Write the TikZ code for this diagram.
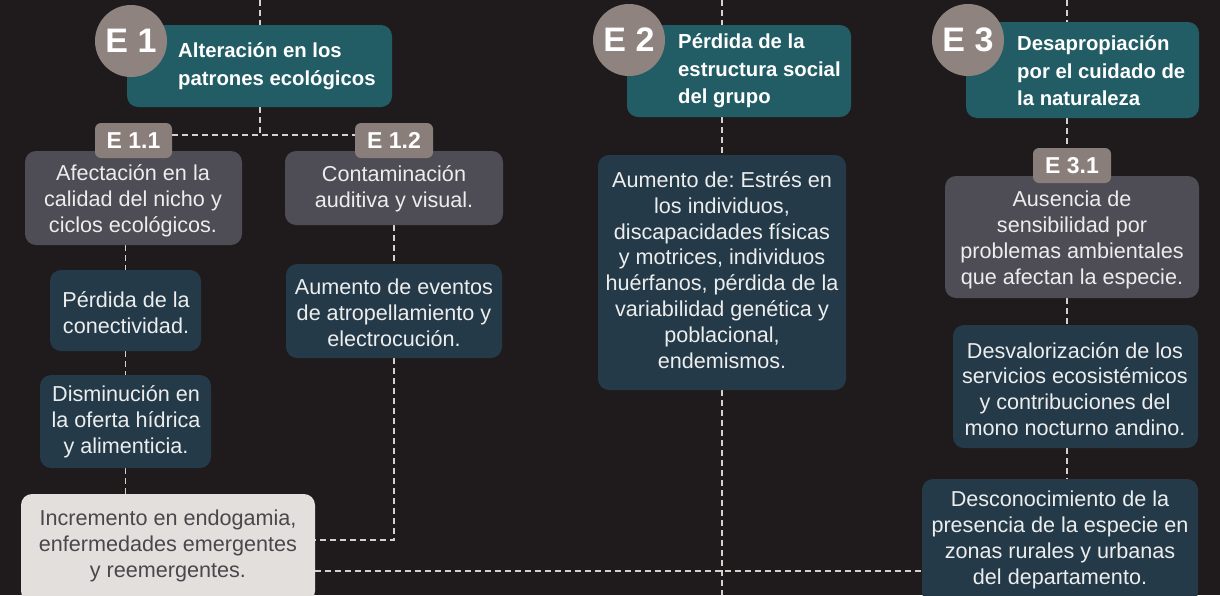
\documentclass[tikz,border=0pt]{standalone}
\usepackage{fontspec}
\setmainfont{Liberation Sans}
\frenchspacing
\definecolor{bgC}{RGB}{31,27,28}
\definecolor{tealC}{RGB}{34,93,102}
\definecolor{circC}{RGB}{143,131,128}
\definecolor{labC}{RGB}{138,126,123}
\definecolor{grayC}{RGB}{78,77,85}
\definecolor{blueC}{RGB}{36,58,72}
\definecolor{lightC}{RGB}{227,223,220}
\definecolor{lineC}{RGB}{214,209,205}
\definecolor{darkT}{RGB}{74,71,76}
\newcommand\fbody{\fontsize{21.6}{25.8}\selectfont}
\newcommand\fhead{\bfseries\fontsize{20.3}{27.5}\selectfont}
\newcommand\flab{\bfseries\fontsize{23}{24}\selectfont}
\newcommand\fcirc{\bfseries\fontsize{34}{36}\selectfont}
\pgfdeclarelayer{background}
\pgfsetlayers{background,main}
\tikzset{
  conn/.style={draw=lineC, line width=1.8pt, dash pattern=on 6pt off 4pt},
  boxbase/.style={rounded corners=11pt, inner sep=0pt},
  hdrbox/.style={boxbase, fill=tealC},
  graybox/.style={boxbase, fill=grayC},
  bluebox/.style={boxbase, fill=blueC},
  lightbox/.style={boxbase, fill=lightC},
  labbox/.style={rounded corners=6pt, fill=labC, inner sep=0pt, text=white, font=\flab},
  circ/.style={circle, fill=circC, minimum size=72pt, inner sep=0pt, text=white, font=\fcirc},
  hdrtxt/.style={align=left, anchor=west, text=white, font=\fhead, inner sep=0pt},
  bodytxt/.style={align=center, text=white!93!black, font=\fbody, inner sep=0pt},
}
\begin{document}
\begin{tikzpicture}[x=1pt,y=-1pt]
\useasboundingbox (0,0) rectangle (1220,595);
\begin{scope}
\clip (0,0) rectangle (1220,595);
% coordinates
\coordinate (t1) at (260,0);
\coordinate (j1) at (260,135);
\coordinate (t2) at (722,0);
\coordinate (b2) at (722,595);
\coordinate (t3) at (1067,0);
\coordinate (k1) at (315,540);
\coordinate (k2) at (315,571);
% boxes
\node[hdrbox, minimum width=265pt, minimum height=82pt] (e1box) at (259.5,66) {};
\node[graybox, minimum width=217pt, minimum height=94pt] (afe) at (133.5,198) {};
\node[graybox, minimum width=218pt, minimum height=74pt] (con) at (394,188) {};
\node[bluebox, minimum width=216pt, minimum height=94pt] (aev) at (394,311) {};
\node[bluebox, minimum width=151pt, minimum height=81pt] (per) at (125.5,310.5) {};
\node[bluebox, minimum width=171pt, minimum height=93pt] (dis) at (125.5,421.5) {};
\node[lightbox, minimum width=294pt, minimum height=108pt] (inc) at (168,548) {};
\node[hdrbox, minimum width=224pt, minimum height=92pt] (e2box) at (739,71) {};
\node[bluebox, minimum width=248pt, minimum height=235pt] (aud) at (722,272.5) {};
\node[hdrbox, minimum width=233pt, minimum height=96pt] (e3box) at (1082.5,70) {};
\node[graybox, minimum width=254pt, minimum height=122pt] (aus) at (1072,237) {};
\node[bluebox, minimum width=245pt, minimum height=123pt] (desv) at (1075.5,386.5) {};
\node[bluebox, minimum width=276pt, minimum height=124pt] (desc) at (1060,541) {};
% labels
\node[labbox, minimum width=77pt, minimum height=35pt] (e11) at (133.5,140.5) {E 1.1};
\node[labbox, minimum width=78pt, minimum height=35pt] (e12) at (394,140.5) {E 1.2};
\node[labbox, minimum width=78pt, minimum height=35pt] (e31) at (1072,165.5) {E 3.1};
% circles
\node[circ] (e1c) at (131,41) {E 1};
\node[circ] (e2c) at (629,40) {E 2};
\node[circ] (e3c) at (968,40) {E 3};
% texts
\node[hdrtxt] (e1t) at (178,66) {Alteración en los\\patrones ecológicos};
\node[hdrtxt] (e2t) at (678,71) {Pérdida de la\\estructura social\\del grupo};
\node[hdrtxt] (e3t) at (1017,71) {Desapropiación\\por el cuidado de\\la naturaleza};
\node[bodytxt] (afet) at (133,201) {Afectación en la\\calidad del nicho y\\ciclos ecológicos.};
\node[bodytxt] (cont) at (394,189) {Contaminación\\auditiva y visual.};
\node[bodytxt] (aevt) at (394,313) {Aumento de eventos\\de atropellamiento y\\electrocución.};
\node[bodytxt] (pert) at (126,313) {Pérdida de la\\conectividad.};
\node[bodytxt] (dist) at (126,422) {Disminución en\\la oferta hídrica\\y alimenticia.};
\node[bodytxt, text=darkT] (inct) at (168,546) {Incremento en endogamia,\\enfermedades emergentes\\y reemergentes.};
\node[bodytxt] (audt) at (722,270) {Aumento de: Estrés en\\los individuos,\\discapacidades físicas\\y motrices, individuos\\huérfanos, pérdida de la\\variabilidad genética y\\poblacional,\\endemismos.};
\node[bodytxt] (aust) at (1072,240) {Ausencia de\\sensibilidad por\\problemas ambientales\\que afectan la especie.};
\node[bodytxt] (desvt) at (1075,389) {Desvalorización de los\\servicios ecosistémicos\\y contribuciones del\\mono nocturno andino.};
\node[bodytxt] (desct) at (1060,540) {Desconocimiento de la\\presencia de la especie en\\zonas rurales y urbanas\\del departamento.};
% connectors + background
\begin{pgfonlayer}{background}
\fill[bgC] (0,0) rectangle (1220,595);
\draw[conn] (t1) -- (t1 |- e1box.north);
\draw[conn] (t1 |- e1box.south) -- (j1);
\draw[conn] (e11.east |- j1) -- (e12.west |- j1);
\draw[conn] (per.north |- afe.south) -- (per.north);
\draw[conn] (per.south) -- (dis.north);
\draw[conn] (dis.south) -- (dis.south |- inc.north);
\draw[conn] (con.south) -- (aev.north);
\draw[conn] (aev.south) |- (k1);
\draw[conn] (k2) -- (k2 -| desc.west);
\draw[conn] (t2) -- (t2 |- e2box.north);
\draw[conn] (t2 |- e2box.south) -- (aud.north);
\draw[conn] (aud.south) -- (b2);
\draw[conn] (t3) -- (t3 |- e3box.north);
\draw[conn] (t3 |- e3box.south) -- (t3 |- e31.north);
\draw[conn] (t3 |- aus.south) -- (t3 |- desv.north);
\draw[conn] (t3 |- desv.south) -- (t3 |- desc.north);
\end{pgfonlayer}
\end{scope}
\end{tikzpicture}
\end{document}
